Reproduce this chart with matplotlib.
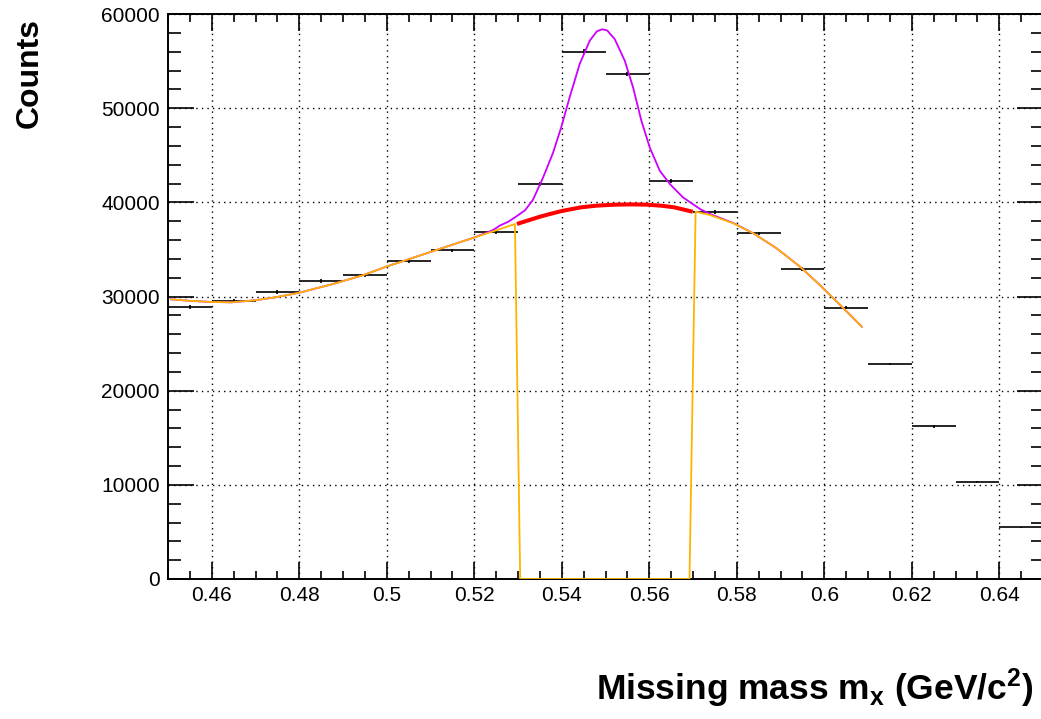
import numpy as np
import matplotlib
matplotlib.use("Agg")
import matplotlib.pyplot as plt
from matplotlib.ticker import MultipleLocator, FixedLocator, FuncFormatter

plt.rcParams['font.family'] = ['Liberation Sans', 'DejaVu Sans']
plt.rcParams['mathtext.fontset'] = 'custom'
plt.rcParams['mathtext.rm'] = 'Liberation Sans'
plt.rcParams['mathtext.bf'] = 'Liberation Sans:bold'
plt.rcParams['mathtext.it'] = 'Liberation Sans:italic'

# ---- histogram data ----
bin_centers = [0.455, 0.465, 0.475, 0.485, 0.495, 0.505, 0.515, 0.525, 0.535, 0.545,
               0.555, 0.565, 0.575, 0.585, 0.595, 0.605, 0.615, 0.625, 0.635, 0.645]
counts = [28890, 29520, 30480, 31650, 32260, 33770, 34900, 36870, 41950, 56000,
          53660, 42270, 39010, 36710, 32920, 28800, 22830, 16210, 10330, 5490]
bin_half_width = 0.005

# ---- background fit (orange), with rejected region drawn as zero ----
bg_left_x = [0.4507, 0.455, 0.460, 0.4645, 0.470, 0.475, 0.480, 0.4875, 0.4945,
             0.500, 0.5038, 0.5091, 0.5150, 0.5201, 0.5250, 0.5293]
bg_left_y = [29700, 29540, 29420, 29380, 29600, 29950, 30400, 31300, 32250,
             33190, 33770, 34590, 35500, 36280, 37020, 37700]
bg_reject_x = [0.5305, 0.5692]
bg_reject_y = [0, 0]
bg_right_x = [0.5706, 0.5739, 0.5792, 0.5838, 0.5891, 0.5945, 0.5990, 0.6044, 0.6086]
bg_right_y = [39010, 38650, 37770, 36710, 35120, 33150, 31220, 28750, 26790]

# ---- background in excluded region (red) ----
red_x = [0.5302, 0.5350, 0.5368, 0.5400, 0.5444, 0.5480, 0.5520, 0.5560, 0.5596, 0.5630, 0.5657, 0.5695]
red_y = [37770, 38470, 38700, 39080, 39470, 39650, 39750, 39780, 39750, 39630, 39470, 39050]

# ---- total fit gaussian + background (magenta), peak part ----
peak_x = [0.5243, 0.5258, 0.5278, 0.5296, 0.5316, 0.5334, 0.5357, 0.5380, 0.5399, 0.5418, 0.5441,
          0.5464, 0.5480, 0.5492, 0.5504, 0.5521, 0.5544, 0.5563, 0.5582, 0.5601, 0.5624,
          0.5647, 0.5677, 0.5716, 0.5739, 0.5792]
peak_y = [37060, 37518, 37950, 38500, 39150, 40250, 42600, 45250, 48000, 51150, 54690,
          57170, 58150, 58380, 58250, 57340, 55040, 52210, 48670, 45840, 43360,
          41950, 40530, 39290, 38760, 37800]

x_tick_values = [0.46, 0.48, 0.50, 0.52, 0.54, 0.56, 0.58, 0.60, 0.62, 0.64]
x_tick_labels = ['0.46', '0.48', '0.5', '0.52', '0.54', '0.56', '0.58', '0.6', '0.62', '0.64']
y_tick_values = [0, 10000, 20000, 30000, 40000, 50000, 60000]

W, H = 1041, 719
fig = plt.figure(figsize=(W / 100, H / 100), dpi=100)
ax = fig.add_axes([168 / W, 1 - 579 / H, 875 / W, 565 / H])

# grid
ax.set_axisbelow(True)
ax.grid(True, which='major', color='black', linestyle=(0, (1, 3)), linewidth=1.0)

# histogram markers with error bars
ax.errorbar(bin_centers, counts, xerr=bin_half_width, yerr=np.sqrt(counts),
            fmt='none', ecolor='black', elinewidth=1.2, capsize=0, zorder=3)

# magenta total fit (under orange in sidebands)
mag_x = [x for x in bg_left_x if x < 0.522] + peak_x + [x for x in bg_right_x if x > 0.58]
mag_y = [y for x, y in zip(bg_left_x, bg_left_y) if x < 0.522] + peak_y + \
        [y for x, y in zip(bg_right_x, bg_right_y) if x > 0.58]
ax.plot(mag_x, mag_y, color='#cc00ff', linewidth=1.3, zorder=4)

# orange background with reject region
or_x = bg_left_x + bg_reject_x + bg_right_x
or_y = bg_left_y + bg_reject_y + bg_right_y
ax.plot(or_x, or_y, color='#ffb400', linewidth=1.3, zorder=5)

# red background in excluded region
ax.plot(red_x, red_y, color='#ff0000', linewidth=2.9, zorder=6)

ax.set_xlim(0.45, 0.65)
ax.set_ylim(0, 60000)

ax.xaxis.set_major_locator(FixedLocator(x_tick_values))
ax.xaxis.set_major_formatter(FuncFormatter(lambda v, p: x_tick_labels[p] if p is not None and p < len(x_tick_labels) else ''))
ax.xaxis.set_minor_locator(MultipleLocator(0.005))
ax.yaxis.set_major_locator(FixedLocator(y_tick_values))
ax.yaxis.set_major_formatter(FuncFormatter(lambda v, p: '%d' % round(v)))
ax.yaxis.set_minor_locator(MultipleLocator(2000))

ax.tick_params(axis='x', which='major', direction='in', length=12, width=1.2,
               top=True, bottom=True, labelsize=15, pad=5)
ax.tick_params(axis='x', which='minor', direction='in', length=6, width=1.2,
               top=True, bottom=True)
ax.tick_params(axis='y', which='major', direction='in', length=19, width=1.2,
               left=True, right=True, labelsize=15, pad=6)
ax.tick_params(axis='y', which='minor', direction='in', length=9, width=1.2,
               left=True, right=True)
for s in ax.spines.values():
    s.set_linewidth(1.4)

fig.text(1033 / W, 1 - 700 / H, r'Missing mass m$_{\mathbf{x}}$ (GeV/c$^{\mathbf{2}}$)',
         ha='right', va='baseline', fontsize=25.5, fontweight='bold')
fig.text(30 / W, 1 - 18 / H, 'Counts', rotation=90, ha='center', va='top',
         fontsize=23, fontweight='bold')

fig.savefig('out.png', dpi=100)
